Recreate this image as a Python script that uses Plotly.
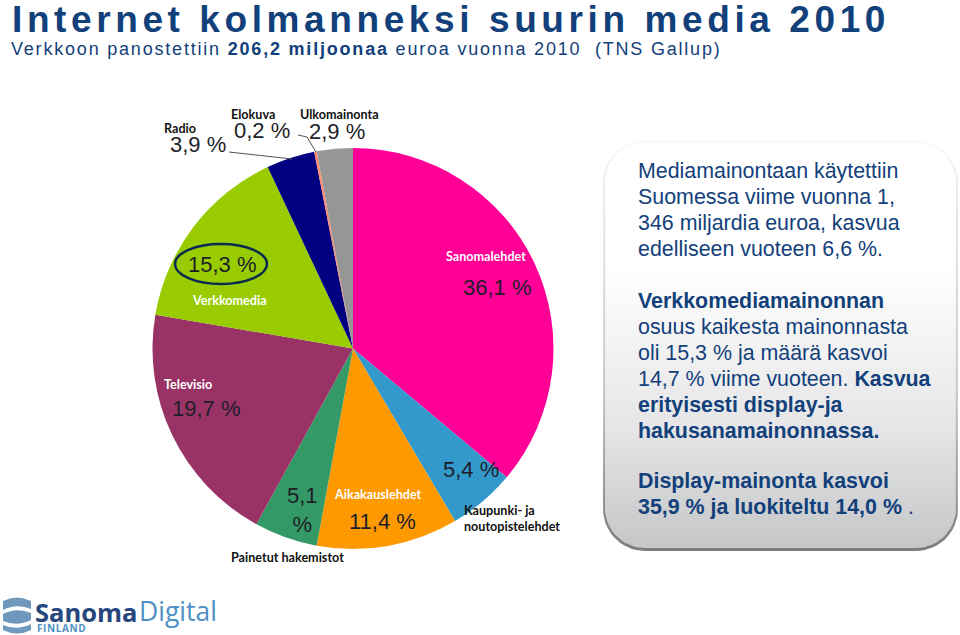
import numpy as np
import plotly.graph_objects as go

# Pie data
categories = ['Sanomalehdet', 'Kaupunki- ja noutopistelehdet', 'Aikakauslehdet', 'Painetut hakemistot',
              'Televisio', 'Verkkomedia', 'Radio', 'Elokuva', 'Ulkomainonta']
shares = [36.1, 5.4, 11.4, 5.1, 19.7, 15.3, 3.9, 0.2, 2.9]
slice_colors = ['#FF0097', '#3399CC', '#FF9900', '#339966', '#993366', '#99CC00', '#000080', '#FF8A70', '#969696']

# Texts
title_text = 'Internet kolmanneksi suurin media 2010'
subtitle_text = 'Verkkoon panostettiin <b>206,2 miljoonaa</b> euroa vuonna 2010  (TNS Gallup)'
box_lines = [
    'Mediamainontaan käytettiin', 'Suomessa viime vuonna 1,', '346 miljardia euroa, kasvua',
    'edelliseen vuoteen 6,6 %.',
    '<b>Verkkomediamainonnan</b>', 'osuus kaikesta mainonnasta', 'oli 15,3 % ja määrä kasvoi',
    '14,7 % viime vuoteen. <b>Kasvua</b>', '<b>erityisesti display-ja</b>', '<b>hakusanamainonnassa.</b>',
    '<b>Display-mainonta kasvoi</b>', '<b>35,9 % ja luokiteltu 14,0 %</b> .',
]
box_line_y = [171, 197, 223, 249, 301, 327, 353, 379, 405, 431, 481, 507]

NAVY = '#12407A'
W, H = 960, 635


def rounded(x0, y0, x1, y1, r):
    # outline of a rounded box, in pixels
    t = np.linspace(0, np.pi / 2, 16)
    xs = np.concatenate([x1 - r + r * np.sin(t), x1 - r + r * np.cos(t), x0 + r - r * np.sin(t), x0 + r - r * np.cos(t)])
    ys = np.concatenate([y0 + r - r * np.cos(t), y1 - r + r * np.sin(t), y1 - r + r * np.cos(t), y0 + r - r * np.sin(t)])
    return np.append(xs, xs[0]), np.append(ys, ys[0])


def box_trace(x0, y0, x1, y1, r, scale):
    xs, ys = rounded(x0, y0, x1, y1, r)
    return go.Scatter(x=xs, y=ys, mode='lines', line=dict(width=0), fill='toself',
                      fillgradient=dict(type='vertical', colorscale=scale, start=y0, stop=y1),
                      hoverinfo='skip', showlegend=False)


fig = go.Figure()

# text box with shadow
fig.add_trace(box_trace(603, 141, 958, 551, 42, [[0, '#F4F4F4'], [0.6, '#C8C8C8'], [1, '#7C7C7C']]))
fig.add_trace(box_trace(605, 142, 956, 548, 40, [[0, '#FFFFFF'], [0.3, '#FFFFFF'], [0.7, '#E6E6E8'], [1, '#C4C6C8']]))

fig.add_trace(go.Pie(labels=categories, values=shares, sort=False, direction='clockwise', rotation=0,
                     marker=dict(colors=slice_colors, line=dict(width=0)),
                     textinfo='none', hoverinfo='label+value', showlegend=False,
                     domain=dict(x=[152 / W, 554 / W], y=[(H - 549) / H, (H - 148) / H])))


def note(text, x, y, size, color, family='Liberation Sans', bold=False, anchor='left'):
    fig.add_annotation(x=x, y=y, xref='x', yref='y', text=f'<b>{text}</b>' if bold else text,
                       xanchor=anchor, yanchor='middle', align=anchor, showarrow=False,
                       font=dict(family=family, size=size, color=color))


# index 0, 1 and the FINLAND text get letter spacing below
note(title_text, 10, 19, 37, NAVY, bold=True)
note(subtitle_text, 9, 49, 18, NAVY)
note('<b>FINLAND</b>', 35, 628, 10, '#4E8FC4', family='Open Sans')

# category labels
label_pos = [(486, 256, 'white'), (512, 518, '#111111'), (378, 494, 'white'), (287, 557, '#111111'),
             (188, 384, 'white'), (229, 300, 'white'), (180, 128, '#111111'), (253, 114, '#111111'), (339, 114, '#111111')]
label_names = ['Sanomalehdet', 'Kaupunki- ja<br>noutopistelehdet', 'Aikakauslehdet', 'Painetut hakemistot',
               'Televisio', 'Verkkomedia', 'Radio', 'Elokuva', 'Ulkomainonta']
for name, (x, y, col) in zip(label_names, label_pos):
    is_kaupunki = name.startswith('Kaupunki')
    note(name, 462 if is_kaupunki else x, y, 12.6, col, family='Lato', bold=True,
         anchor='left' if is_kaupunki else 'center')

# percent labels, same order as shares
pct_pos = [(497, 287), (471, 469), (382, 521), (302, 510), (206, 408), (222, 264), (198, 144), (262, 130), (337, 131)]
pct_text = [f'{v:.1f} %'.replace('.', ',') for v in shares]
pct_text[3] = '5,1<br>%'
for txt, (x, y) in zip(pct_text, pct_pos):
    note(txt, x, y, 22, '#1E1E28', anchor='center')

# text in the box
for txt, y in zip(box_lines, box_line_y):
    note(txt, 636, y, 21.4, NAVY)

# logo
note('<b>Sanoma</b>', 33, 612, 25.5, '#27477C', family='Open Sans')
note('Digital', 137, 611, 26.5, '#4E8FC4', family='Open Sans')

shapes = [
    dict(type='circle', x0=175, x1=267, y0=244, y1=284, line=dict(color='#0A2A50', width=2.5), layer='above'),
    # leader lines
    dict(type='path', path='M 229 152 L 292 159', line=dict(color='#555555', width=1)),
    dict(type='path', path='M 298 135 L 307 137 L 316 152', line=dict(color='#555555', width=1)),
    # logo mark
    dict(type='path', path='M 3 601 Q 17 594 31 601 L 31 630 Q 17 637 3 630 Z', fillcolor='#6E98BC', line=dict(width=0)),
    dict(type='path', path='M 3 610 Q 17 603 31 609 L 31 613 Q 17 607 3 614 Z', fillcolor='#FFFFFF', line=dict(width=0)),
    dict(type='path', path='M 3 621 Q 17 627 31 620 L 31 624 Q 17 631 3 625 Z', fillcolor='#FFFFFF', line=dict(width=0)),
]

fig.update_layout(
    width=W, height=H, margin=dict(l=0, r=0, t=0, b=0), paper_bgcolor='white', plot_bgcolor='white',
    xaxis=dict(range=[0, W], visible=False, fixedrange=True),
    yaxis=dict(range=[H, 0], visible=False, fixedrange=True),
    shapes=shapes,
)

# plotly has no letter spacing option for text, and the page has a default margin
page_css = """
var css = document.createElement('style');
css.textContent = 'body {margin: 0}'
  + ' .annotation[data-index="0"] text {letter-spacing: 4.6px}'
  + ' .annotation[data-index="1"] text {letter-spacing: 1.8px}'
  + ' .annotation[data-index="2"] text {letter-spacing: 0.6px}';
document.head.appendChild(css);
"""
fig.write_html("out.html", config={'displayModeBar': False}, post_script=page_css)
